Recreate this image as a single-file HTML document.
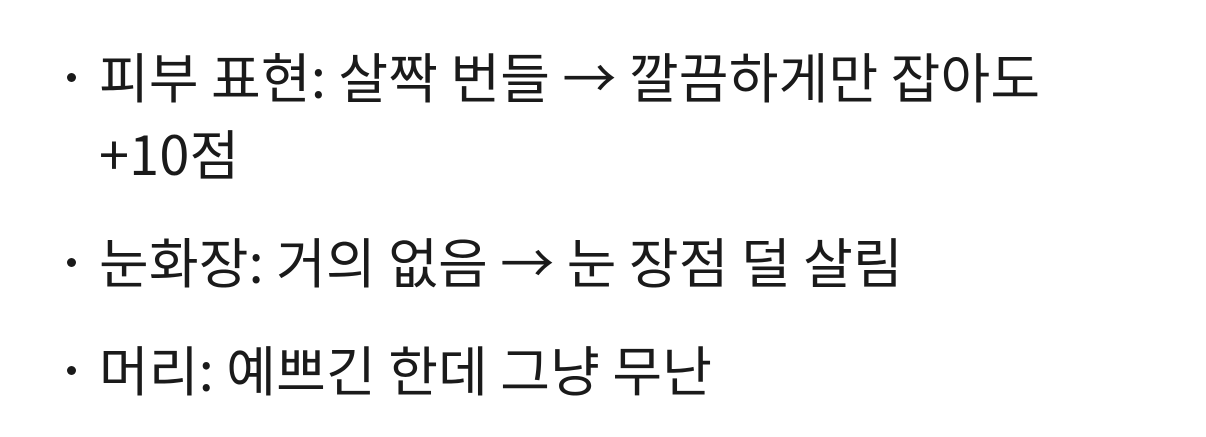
<!DOCTYPE html>
<html><head><meta charset="utf-8"><style>
html,body{margin:0;padding:0;background:#fff;width:1206px;height:436px;overflow:hidden}
ul{margin:0;padding:0;list-style:none;position:absolute;left:99px;top:36px;width:1100px}
li{font-family:"Noto Sans CJK KR",sans-serif;font-size:54px;letter-spacing:0.2px;line-height:77px;color:#1a1a1a;position:relative;margin-bottom:31px}
li::before{content:"";position:absolute;left:-32px;top:37px;width:9px;height:9px;border-radius:50%;background:#1a1a1a}
</style></head><body>
<ul>
<li>피부 표현: 살짝 번들 → 깔끔하게만 잡아도<br>+10점</li>
<li>눈화장: 거의 없음 → 눈 장점 덜 살림</li>
<li>머리: 예쁘긴 한데 그냥 무난</li>
</ul>
</body></html>
